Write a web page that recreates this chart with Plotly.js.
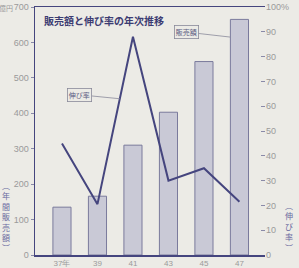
<!DOCTYPE html>
<html><head><meta charset="utf-8">
<script src="https://cdn.plot.ly/plotly-3.0.1.min.js"></script>
<style>html,body{margin:0;padding:0;background:#ecebe6;}#c{width:299px;height:268px;}</style>
</head><body><div id="c"></div>
<script>
const years = ["37年","39","41","43","45","47"];
const sales = [135, 166, 310, 403, 546, 665];
const growth = [45, 20.5, 88, 30, 35, 21.5];
const leftTicks = [0,100,200,300,400,500,600,700];
const rightTicks = [0,10,20,30,40,50,60,70,80,90,100];
const rightTickText = ["0","10","20","30","40","50","60","70","80","90","100%"];
const idx = years.map((_, i) => i);

const navy = "#45457e";
const tickFont = {family: "Liberation Sans, Arial", size: 9, color: "#9a9a9a"};
const jp = "Noto Sans CJK JP";

const traces = [
  {type: "bar", x: idx, y: sales, width: 0.51,
   marker: {color: "#c9c9d6", line: {color: "#7a7a9c", width: 1}},
   hoverinfo: "skip"},
  {type: "scatter", mode: "lines", x: idx, y: growth, yaxis: "y2",
   line: {color: navy, width: 2}, hoverinfo: "skip"}
];

const layout = {
  width: 299, height: 268,
  margin: {l: 35, r: 34, t: 7, b: 13, pad: 0},
  paper_bgcolor: "#ecebe6", plot_bgcolor: "#ecebe6",
  showlegend: false,
  xaxis: {range: [-0.76, 5.72], tickvals: idx, ticktext: years,
          tickfont: {family: "Liberation Sans, Arial", size: 8, color: "#9a9a9a"},
          ticklabelstandoff: 0,
          showgrid: false, zeroline: false, showline: true, linecolor: navy, linewidth: 1.5,
          mirror: true, ticks: "", ticklen: 0},
  yaxis: {range: [0, 700], tickvals: leftTicks, tickfont: tickFont, showgrid: false,
          zeroline: false, showline: true, linecolor: navy, linewidth: 1.5,
          ticks: "outside", ticklen: 3, tickcolor: "#8a8aa8"},
  yaxis2: {range: [0, 100], overlaying: "y", side: "right", tickvals: rightTicks,
           ticktext: rightTickText, tickfont: tickFont, showgrid: false, zeroline: false,
           showline: false, ticks: "inside", ticklen: 4, tickcolor: "#8a8aa8"},
  annotations: [
    {xref: "paper", yref: "paper", x: 0.03, y: 0.985, xanchor: "left", yanchor: "top",
     text: "<b>販売額と伸び率の年次推移</b>", showarrow: false,
     font: {family: jp, size: 10, color: "#3c3c72"}},
    {xref: "x", yref: "y", x: 4.75, y: 615, text: "販売額", showarrow: true,
     arrowhead: 0, arrowwidth: 0.8, arrowcolor: "#8a8a9a", ax: -44, ay: -5,
     font: {family: jp, size: 7, color: "#5a5a80"}, bgcolor: "#ecebe6",
     bordercolor: "#8a8a9a", borderwidth: 0.8, borderpad: 1},
    {xref: "x", yref: "y2", x: 1.63, y: 63, text: "伸び率", showarrow: true,
     arrowhead: 0, arrowwidth: 0.8, arrowcolor: "#8a8a9a", ax: -40, ay: -4,
     font: {family: jp, size: 7, color: "#5a5a80"}, bgcolor: "#ecebe6",
     bordercolor: "#8a8a9a", borderwidth: 0.8, borderpad: 1},
    {xref: "paper", yref: "paper", x: -0.127, y: 0.0, xanchor: "center", yanchor: "bottom",
     text: "︵<br>年<br>間<br>販<br>売<br>額<br>︶", showarrow: false,
     font: {family: jp, size: 8, color: "#6a6aa0"}},
    {xref: "paper", yref: "paper", x: 1.105, y: 0.0, xanchor: "center", yanchor: "bottom",
     text: "︵<br>伸<br>び<br>率<br>︶", showarrow: false,
     font: {family: jp, size: 8, color: "#6a6aa0"}},
    {xref: "paper", yref: "paper", x: -0.085, y: 1.0, xanchor: "right", yanchor: "top",
     yshift: 6, text: "億円", showarrow: false,
     font: {family: jp, size: 7, color: "#9a9a9a"}}
  ]
};

Plotly.newPlot("c", traces, layout, {displayModeBar: false, staticPlot: true});
</script>
</body></html>
